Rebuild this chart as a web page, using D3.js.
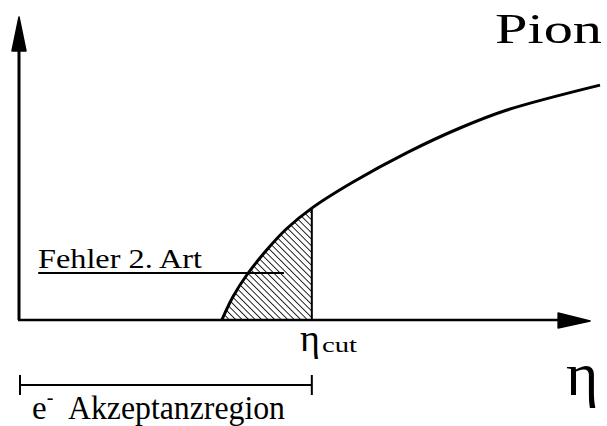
<!DOCTYPE html>
<html>
<head>
<meta charset="utf-8">
<script src="https://cdn.jsdelivr.net/npm/d3@7"></script>
<style>
body { margin:0; background:#fff; }
svg text { font-family:"Liberation Serif", "Times New Roman", serif; fill:#000; }
</style>
</head>
<body>
<div class="chart"></div>
<script>
// curve (eta, pion yield), arbitrary units 0..100
var eta = [34.9, 36.8, 39.2, 42.7, 46.1, 50.4, 57.5, 66.8, 75.9, 84.0, 100]
var pion = [0, 7.7, 15, 23.5, 30.5, 37.3, 46, 55.8, 64, 70, 78.3]
var etaCut = 50.4
var fehlerLevel = 15.7
var fehlerRange = [3.3, 45.6]
var axisEnd = [98.3, 101]

var width = 607
var height = 426
var svg = d3.select(".chart").append("svg").attr("width",width).attr("height",height)

//scales
var x = d3.scaleLinear().domain([0,100]).range([19,600])
var y = d3.scaleLinear().domain([0,100]).range([320,20])

var points = eta.map(function(d,i){ return [d, pion[i]] })
var cutY = pion[eta.indexOf(etaCut)]

//hatch pattern
var defs = svg.append("defs")
defs.append("pattern").attr("id","hatch").attr("patternUnits","userSpaceOnUse")
	.attr("width",4.6).attr("height",4.6).attr("patternTransform","rotate(-45)")
	.append("line").attr("x1",0).attr("y1",0).attr("x2",0).attr("y2",4.6)
	.attr("stroke","#000").attr("stroke-width",1.7)

var area = d3.area().x(function(d){return x(d[0])}).y0(y(0)).y1(function(d){return y(d[1])}).curve(d3.curveCatmullRom.alpha(0.5))
svg.append("path").datum(points.filter(function(d){return d[0] <= etaCut}))
	.attr("d",area).attr("fill","url(#hatch)")

//axes
svg.append("line").attr("x1",x(0)).attr("y1",y(0)).attr("x2",x(0)).attr("y2",y(axisEnd[1])+30)
	.attr("stroke","#000").attr("stroke-width",3)
svg.append("path").attr("d","M"+x(0)+","+y(axisEnd[1])+" L"+(x(0)+7)+","+(y(axisEnd[1])+34)+" L"+(x(0)-7)+","+(y(axisEnd[1])+34)+"Z")
	.attr("fill","#000").attr("stroke","#000").attr("stroke-width",1.5).attr("stroke-linejoin","round")
svg.append("line").attr("x1",x(0)-1).attr("y1",y(0)).attr("x2",x(axisEnd[0])-30).attr("y2",y(0))
	.attr("stroke","#000").attr("stroke-width",2.5)
svg.append("path").attr("d","M"+x(axisEnd[0])+","+(y(0)+1)+" L"+(x(axisEnd[0])-32)+","+(y(0)-7)+" L"+(x(axisEnd[0])-32)+","+(y(0)+8)+"Z")
	.attr("fill","#000").attr("stroke","#000").attr("stroke-width",1.5).attr("stroke-linejoin","round")

//curve
var line = d3.line().x(function(d){return x(d[0])}).y(function(d){return y(d[1])}).curve(d3.curveCatmullRom.alpha(0.5))
svg.append("path").datum(points).attr("d",line).attr("fill","none").attr("stroke","#000").attr("stroke-width",3)

//cut line
svg.append("line").attr("x1",x(etaCut)).attr("y1",y(0)).attr("x2",x(etaCut)).attr("y2",y(cutY))
	.attr("stroke","#000").attr("stroke-width",2)

//Fehler 2. Art
svg.append("line").attr("x1",x(fehlerRange[0])).attr("y1",y(fehlerLevel)).attr("x2",x(fehlerRange[1])).attr("y2",y(fehlerLevel))
	.attr("stroke","#000").attr("stroke-width",2)
svg.append("text").attr("x",38).attr("y",268).style("font-size","28px")
	.attr("textLength",164).attr("lengthAdjust","spacingAndGlyphs").text("Fehler 2. Art")

//acceptance bracket
var by = 385
svg.append("line").attr("x1",x(0)).attr("y1",by).attr("x2",x(etaCut)).attr("y2",by).attr("stroke","#000").attr("stroke-width",2)
svg.append("line").attr("x1",x(0)+1).attr("y1",by-10).attr("x2",x(0)+1).attr("y2",by+10).attr("stroke","#000").attr("stroke-width",2)
svg.append("line").attr("x1",x(etaCut)).attr("y1",by-10).attr("x2",x(etaCut)).attr("y2",by+10).attr("stroke","#000").attr("stroke-width",2)

//labels
svg.append("text").attr("x",495).attr("y",43).style("font-size","42px")
	.attr("textLength",107).attr("lengthAdjust","spacingAndGlyphs").text("Pion")
svg.append("text").attr("x",300).attr("y",351).style("font-size","38px").text("η")
svg.append("text").attr("x",322).attr("y",352).style("font-size","22px")
	.attr("textLength",35).attr("lengthAdjust","spacingAndGlyphs").text("cut")
svg.append("text").attr("x",566).attr("y",395).style("font-size","62px").text("η")
var eText = svg.append("text").attr("x",32).attr("y",419).style("font-size","33px")
eText.append("tspan").text("e")
eText.append("tspan").attr("dy",-15).style("font-size","20px").text("-")
svg.append("text").attr("x",68).attr("y",419).style("font-size","33px")
	.attr("textLength",217).attr("lengthAdjust","spacingAndGlyphs").text("Akzeptanzregion")
</script>
</body>
</html>
